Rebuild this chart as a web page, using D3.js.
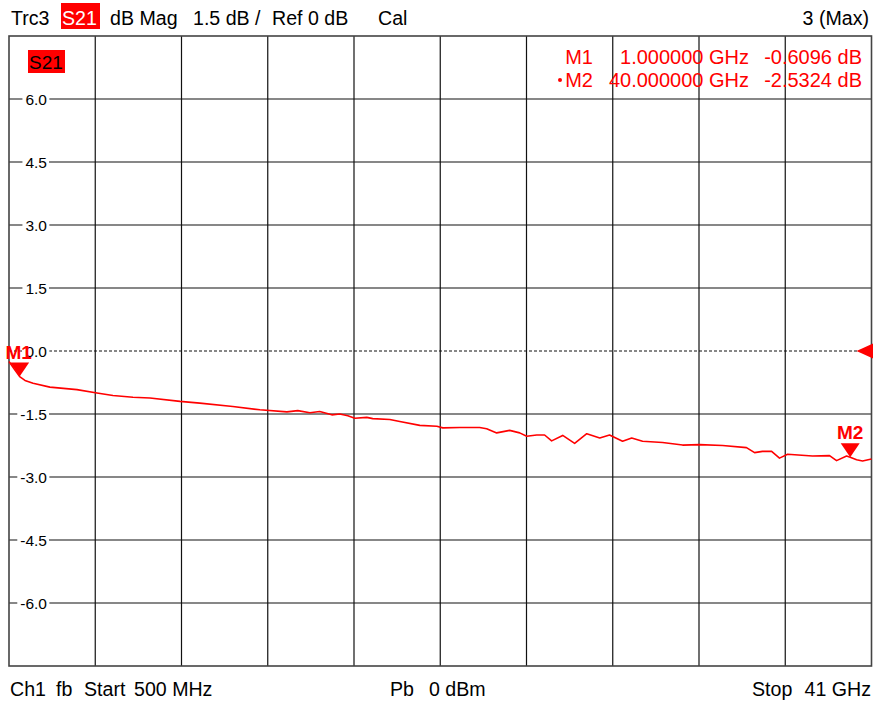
<!DOCTYPE html>
<html>
<head>
<meta charset="utf-8">
<script src="https://cdn.jsdelivr.net/npm/d3@7"></script>
<style>
  html, body { margin: 0; padding: 0; background: #fff; }
  svg { display: block; font-family: "Liberation Sans", Arial, sans-serif; }
</style>
</head>
<body>
<svg id="svg" width="873" height="702"></svg>
<script>
// Trace S21
const freqGHz = [0.50, 0.73, 1.00, 1.25, 1.63, 2.42, 3.69, 4.63, 5.38, 6.32, 7.12, 8.53, 9.46,
  11.01, 12.28, 13.55, 14.06, 14.63, 15.09, 15.66, 16.03, 16.41, 16.74, 17.30, 17.58, 18.38,
  18.85, 19.79, 20.59, 20.87, 21.67, 22.60, 22.93, 23.40, 24.01, 24.48, 24.81, 25.28, 25.65,
  25.98, 26.50, 27.06, 27.63, 28.24, 28.70, 29.31, 29.74, 30.25, 31.19, 32.13, 32.93, 34.01,
  35.13, 35.51, 35.88, 36.31, 36.68, 37.06, 38.23, 39.03, 39.36, 39.83, 40.00, 40.30, 40.58, 41.00];
const s21dB = [-0.25, -0.42, -0.61, -0.70, -0.77, -0.86, -0.92, -1.00, -1.06, -1.10, -1.12, -1.20, -1.24,
  -1.32, -1.40, -1.45, -1.42, -1.47, -1.44, -1.52, -1.50, -1.54, -1.60, -1.58, -1.61, -1.63,
  -1.68, -1.77, -1.79, -1.83, -1.82, -1.82, -1.85, -1.95, -1.89, -1.95, -2.03, -2.00, -2.00,
  -2.14, -2.01, -2.20, -1.97, -2.07, -2.00, -2.15, -2.07, -2.15, -2.18, -2.24, -2.23, -2.25,
  -2.30, -2.42, -2.39, -2.39, -2.55, -2.46, -2.50, -2.49, -2.61, -2.50, -2.53, -2.59, -2.62, -2.57];

// Markers
const markerNames = ['M1', 'M2'];
const markerFreq = [1.0, 40.0];
const markerVal = [-0.6096, -2.5324];
const markerFreqText = ['1.000000 GHz', '40.000000 GHz'];
const markerValText = ['-0.6096 dB', '-2.5324 dB'];

// Axis
const yTicks = [6.0, 4.5, 3.0, 1.5, 0.0, -1.5, -3.0, -4.5, -6.0];
const startGHz = 0.5, stopGHz = 41, xDivs = 10;
const refLevel = 0;

const svg = d3.select('#svg');
const red = '#ff0000';
const pLeft = 9, pRight = 871.5, pTop = 36, pBottom = 666;

const x = d3.scaleLinear().domain([startGHz, stopGHz]).range([pLeft, pRight]);
const y = d3.scaleLinear().domain([-7.5, 7.5]).range([pBottom, pTop]);

// Header line
const header = svg.append('g').attr('font-size', 19.6).attr('fill', '#000');
header.append('text').attr('x', 11).attr('y', 25).text('Trc3');
header.append('rect').attr('x', 61).attr('y', 3).attr('width', 39).attr('height', 26).attr('fill', red);
header.append('text').attr('x', 62).attr('y', 25).attr('fill', '#fff').text('S21');
header.append('text').attr('x', 110).attr('y', 25).text('dB Mag');
header.append('text').attr('x', 193).attr('y', 25).text('1.5 dB /');
header.append('text').attr('x', 272).attr('y', 25).text('Ref 0 dB');
header.append('text').attr('x', 378).attr('y', 25).text('Cal');
header.append('text').attr('x', 869).attr('y', 25).attr('text-anchor', 'end').text('3 (Max)');

// Grid
const grid = svg.append('g').attr('stroke', '#111').attr('stroke-width', 1.2);
const xGrid = d3.range(1, xDivs).map((i) => startGHz + (i * (stopGHz - startGHz)) / xDivs);
grid.selectAll('line.v').data(xGrid).enter().append('line')
  .attr('x1', (d) => x(d)).attr('x2', (d) => x(d))
  .attr('y1', pTop).attr('y2', pBottom);
grid.selectAll('line.h').data(yTicks).enter().append('line')
  .attr('x1', pLeft).attr('x2', pRight)
  .attr('y1', (d) => y(d)).attr('y2', (d) => y(d))
  .attr('stroke-dasharray', (d) => (d === refLevel ? '3,2' : null));

// Frame
svg.append('rect')
  .attr('x', pLeft).attr('y', pTop)
  .attr('width', pRight - pLeft).attr('height', pBottom - pTop)
  .attr('fill', 'none').attr('stroke', '#444').attr('stroke-width', 1.6);

// Y labels with white box behind
const yLab = svg.append('g').attr('font-size', 15.5);
yTicks.forEach((v) => {
  const g = yLab.append('g');
  const t = g.append('text')
    .attr('x', 47).attr('y', y(v)).attr('dy', '0.36em')
    .attr('text-anchor', 'end').text(v.toFixed(1));
  const b = t.node().getBBox();
  g.insert('rect', 'text')
    .attr('x', b.x - 3).attr('y', b.y + 1)
    .attr('width', b.width + 5).attr('height', b.height - 2)
    .attr('fill', '#fff');
});

// S21 tag in plot
svg.append('rect').attr('x', 28).attr('y', 50).attr('width', 37).attr('height', 23).attr('fill', red);
svg.append('text').attr('x', 29).attr('y', 69).attr('font-size', 19).text('S21');

// Trace
const line = d3.line().x((d) => x(d[0])).y((d) => y(d[1]));
svg.append('path')
  .datum(freqGHz.map((f, i) => [f, s21dB[i]]))
  .attr('d', line)
  .attr('fill', 'none').attr('stroke', red).attr('stroke-width', 1.6)
  .attr('stroke-linejoin', 'round');

// Reference level arrow (right edge)
const ry = y(refLevel);
svg.append('path')
  .attr('d', `M ${pRight - 15},${ry} L 873,${ry - 7.5} L 873,${ry + 7.5} Z`)
  .attr('fill', red);

// Markers on trace
markerNames.forEach((name, i) => {
  const mx = x(markerFreq[i]);
  const my = y(markerVal[i]);
  const mg = svg.append('g');
  mg.append('path')
    .attr('d', `M ${mx},${my} L ${mx - 9.5},${my - 14} L ${mx + 9.5},${my - 14} Z`)
    .attr('fill', red);
  mg.append('text')
    .attr('x', i === 0 ? mx - 1 : mx).attr('y', my - 18)
    .attr('text-anchor', 'middle')
    .attr('font-size', 19).attr('font-weight', 'bold')
    .attr('fill', red)
    .text(name);
});

// Marker readout
const ro = svg.append('g').attr('font-size', 20).attr('fill', red).attr('text-anchor', 'end');
markerNames.forEach((name, i) => {
  const by = 64 + i * 23;
  ro.append('text').attr('x', 593).attr('y', by).text(name);
  ro.append('text').attr('x', 749).attr('y', by).text(markerFreqText[i]);
  ro.append('text').attr('x', 862).attr('y', by).text(markerValText[i]);
});
ro.append('circle').attr('cx', 560).attr('cy', 80).attr('r', 2).attr('fill', red);

// Footer
const footer = svg.append('g').attr('font-size', 19.6).attr('fill', '#000');
footer.append('text').attr('x', 10).attr('y', 696).text('Ch1');
footer.append('text').attr('x', 56).attr('y', 696).text('fb');
footer.append('text').attr('x', 84).attr('y', 696).text('Start');
footer.append('text').attr('x', 134).attr('y', 696).text('500 MHz');
footer.append('text').attr('x', 390).attr('y', 696).text('Pb');
footer.append('text').attr('x', 429).attr('y', 696).text('0 dBm');
footer.append('text').attr('x', 752).attr('y', 696).text('Stop');
footer.append('text').attr('x', 871).attr('y', 696).attr('text-anchor', 'end').text('41 GHz');
</script>
</body>
</html>
